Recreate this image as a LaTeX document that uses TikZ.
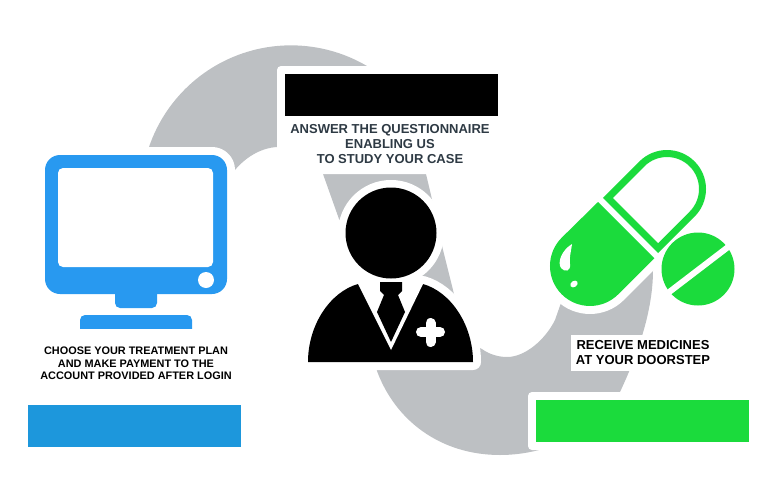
\documentclass[tikz,border=0pt]{standalone}
\usepackage{fontspec}
\setmainfont{Liberation Sans}
\definecolor{ribbon}{HTML}{BDC0C3}
\definecolor{screenblue}{HTML}{2899F0}
\definecolor{barblue}{HTML}{1D97DC}
\definecolor{pillgreen}{HTML}{1BDB3C}
\definecolor{slate}{HTML}{2E3A44}
\tikzset{
  halo/.style={draw=white,fill=white,line width=16pt,line join=round},
  caption/.style={align=center,inner sep=0pt,font=\bfseries\fontsize{13}{15}\selectfont},
  smallcaption/.style={align=center,inner sep=0pt,font=\bfseries\fontsize{10.9}{12.5}\selectfont}
}

\begin{document}
\begin{tikzpicture}[x=1pt,y=-1pt]
\useasboundingbox (0,0) rectangle (768,498);
\fill[ribbon] (149,147) arc (198.8:301.2:150) -- (426,174) -- (431,195) -- (443,250) -- (453,290)
  .. controls (460,320) and (470,345) .. (482,349) .. controls (490,355) and (500,357) .. (507,357)
  .. controls (525,357) and (545,340) .. (555,320) -- (562,300) -- (640,260) -- (653,270)
  .. controls (653,305) and (642,345) .. (620,392) .. controls (600,430) and (550,455) .. (500,455)
  .. controls (440,455) and (395,420) .. (377,371) -- (370,260) -- (339,219) -- (323,174)
  .. controls (310,155) and (295,147) .. (277,147) .. controls (260,148) and (245,158) .. (235,170) -- cycle;

\fill[white,rounded corners=4pt] (277,66) rectangle (506,174);
\fill[white,rounded corners=4pt] (528,392) rectangle (757,450);
\fill[white] (571,335) rectangle (700,371);

\draw[halo,rounded corners=15pt] (45,155) rectangle (227,294);
\draw[halo] (391,233) circle (45);
\draw[halo] (358,284) .. controls (330,292) and (308,325) .. (308,362) -- (473,362)
  .. controls (473,325) and (451,292) .. (423,284) -- cycle;
\draw[halo] (561.7,237.7) arc (225:45:40) -- (695.3,217.3) arc (45:-135:39) -- cycle;
\draw[halo] (698,269) circle (36.5);

\fill[screenblue,rounded corners=5pt] (115,285) rectangle (157,308);
\fill[screenblue,rounded corners=5pt] (80,335) -- (80,315) -- (192,315) -- (192,335) -- cycle;
\fill[white] (78,329) rectangle (194,337);
\fill[screenblue,rounded corners=15pt] (45,155) rectangle (227,294);
\fill[white,rounded corners=5pt] (58,168) rectangle (213,267);
\fill[white] (206,280) circle (8);

\fill[black] (358,284) .. controls (330,292) and (308,325) .. (308,362) -- (473,362)
  .. controls (473,325) and (451,292) .. (423,284) -- cycle;
\fill[white] (358,284) -- (391,350) -- (423,284) -- cycle;
\fill[black] (380,282) -- (402,282) -- (402,291) -- (398,295) -- (405,312) -- (391,342) -- (377,312) -- (384,295) -- (380,291) -- cycle;
\fill[black] (391,233) circle (45.5);
\draw[white,line width=10pt,line cap=round] (421,332) -- (440,332);
\draw[white,line width=10pt,line cap=round] (430.5,323) -- (430.5,342);

\fill[pillgreen] (598,202) -- (561.7,237.7) arc (225:45:40) -- (654.3,258.3) -- cycle;
\fill[white] (572,244) .. controls (562,250) and (557,262) .. (561,268) .. controls (565,273) and (571,271) .. (570,264) .. controls (569,258) and (571,252) .. (572,244) -- cycle;
\fill[white,rotate around={35:(574,284)}] (574,284) ellipse (4 and 3);
\draw[pillgreen,line width=7pt,miter limit=4] (607.9,197.9) -- (641.9,163.9) arc (225:405:35.5) -- (658.1,248.1) -- cycle;

\fill[pillgreen] (698,269) circle (36.5);
\draw[white,line width=6pt] (664,296) -- (732,244);

\fill[black] (285,74) rectangle (498,116);
\fill[barblue] (28,405) rectangle (241,447);
\fill[pillgreen] (536,400) rectangle (749,442);

\node[caption,text=slate] (answer) at (390,144.5) {ANSWER THE QUESTIONNAIRE\\ENABLING US\\TO STUDY YOUR CASE};
\node[smallcaption,text=black] (choose) at (136,363.5) {CHOOSE YOUR TREATMENT PLAN\\AND MAKE PAYMENT TO THE\\ACCOUNT PROVIDED AFTER LOGIN};
\node[caption,text=black] (receive) at (643,352.5) {RECEIVE MEDICINES\\AT YOUR DOORSTEP};
\end{tikzpicture}
\end{document}
